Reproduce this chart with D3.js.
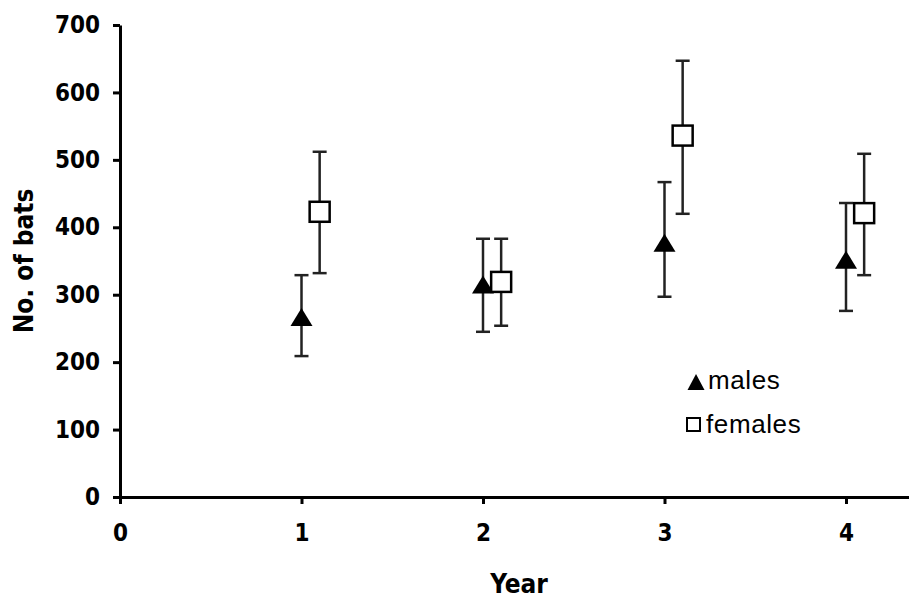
<!DOCTYPE html>
<html>
<head>
<meta charset="utf-8">
<script src="https://cdn.jsdelivr.net/npm/d3@7"></script>
<style>
  body { margin: 0; background: #fff; }
  svg { display: block; overflow: hidden; }
  .axis text { font-family: "DejaVu Sans Condensed", "DejaVu Sans", sans-serif; font-weight: bold; font-size: 24px; fill: #000; }
  .axis path, .axis line { stroke: #000; stroke-width: 3; }
</style>
</head>
<body>
<div id="chart"></div>
<script>
// values
const years = [1, 2, 3, 4];
const malesMean = [267, 315, 377, 352];
const malesLow = [209, 245, 297, 276];
const malesHigh = [329, 383, 467, 436];
const femalesMean = [423, 319, 536, 421];
const femalesLow = [332, 254, 420, 329];
const femalesHigh = [512, 383, 647, 509];
const yTicks = [0, 100, 200, 300, 400, 500, 600, 700];
const xTicks = [0, 1, 2, 3, 4];

const width = 909, height = 599;
const femaleShift = 0.1;

const svg = d3.select("#chart").append("svg")
    .attr("width", width)
    .attr("height", height);

const x = d3.scaleLinear().domain([0, 4.5]).range([120, 120 + 4.5 * 181.5]);
const y = d3.scaleLinear().domain([0, 700]).range([497, 25]);

const males = years.map((yr, i) => ({ x: yr, mean: malesMean[i], lo: malesLow[i], hi: malesHigh[i] }));
const females = years.map((yr, i) => ({ x: yr + femaleShift, mean: femalesMean[i], lo: femalesLow[i], hi: femalesHigh[i] }));

// axes
svg.append("g")
    .attr("class", "axis x-axis")
    .attr("transform", `translate(0, ${y(0)})`)
    .call(d3.axisBottom(x).tickValues(xTicks).tickFormat(d3.format("d")).tickSize(7).tickSizeOuter(0).tickPadding(20));

svg.append("g")
    .attr("class", "axis y-axis")
    .attr("transform", `translate(${x(0)}, 0)`)
    .call(d3.axisLeft(y).tickValues(yTicks).tickSize(7).tickSizeOuter(0).tickPadding(13));

// axis titles
svg.append("text")
    .attr("transform", `translate(33, ${(y(0) + y(700)) / 2}) rotate(-90)`)
    .attr("text-anchor", "middle")
    .attr("font-family", "DejaVu Sans Condensed, DejaVu Sans, sans-serif")
    .attr("font-weight", "bold")
    .attr("font-size", 26)
    .text("No. of bats");

svg.append("text")
    .attr("x", 519)
    .attr("y", 593)
    .attr("text-anchor", "middle")
    .attr("font-family", "DejaVu Sans Condensed, DejaVu Sans, sans-serif")
    .attr("font-weight", "bold")
    .attr("font-size", 26)
    .text("Year");

// error bars
function errorBars(data) {
    const g = svg.append("g")
        .attr("stroke", "#222")
        .attr("stroke-width", 2.5);
    g.selectAll(".stem").data(data).join("line")
        .attr("x1", d => x(d.x)).attr("x2", d => x(d.x))
        .attr("y1", d => y(d.lo)).attr("y2", d => y(d.hi));
    g.selectAll(".capHi").data(data).join("line")
        .attr("x1", d => x(d.x) - 7).attr("x2", d => x(d.x) + 7)
        .attr("y1", d => y(d.hi)).attr("y2", d => y(d.hi));
    g.selectAll(".capLo").data(data).join("line")
        .attr("x1", d => x(d.x) - 7).attr("x2", d => x(d.x) + 7)
        .attr("y1", d => y(d.lo)).attr("y2", d => y(d.lo));
}
errorBars(males);
errorBars(females);

const tri = (w, h) => `M0,${-h / 2}L${w / 2},${h / 2}L${-w / 2},${h / 2}Z`;

svg.append("g")
    .selectAll("path")
    .data(males)
    .join("path")
    .attr("transform", d => `translate(${x(d.x)},${y(d.mean)})`)
    .attr("d", tri(22, 18))
    .attr("fill", "#000");

svg.append("g")
    .selectAll("rect")
    .data(females)
    .join("rect")
    .attr("x", d => x(d.x) - 10)
    .attr("y", d => y(d.mean) - 10)
    .attr("width", 20)
    .attr("height", 20)
    .attr("fill", "#fff")
    .attr("stroke", "#000")
    .attr("stroke-width", 2.5);

// legend
const legend = svg.append("g")
    .attr("font-family", "Liberation Sans, Arial, sans-serif")
    .attr("font-size", 26)
    .attr("letter-spacing", 0.6);

legend.append("path")
    .attr("transform", "translate(696, 382)")
    .attr("d", tri(17, 16))
    .attr("fill", "#000");
legend.append("text")
    .attr("x", 708)
    .attr("y", 389)
    .text("males");

legend.append("rect")
    .attr("x", 687)
    .attr("y", 418)
    .attr("width", 13)
    .attr("height", 13)
    .attr("fill", "#fff")
    .attr("stroke", "#000")
    .attr("stroke-width", 2);
legend.append("text")
    .attr("x", 706)
    .attr("y", 433)
    .text("females");
</script>
</body>
</html>
